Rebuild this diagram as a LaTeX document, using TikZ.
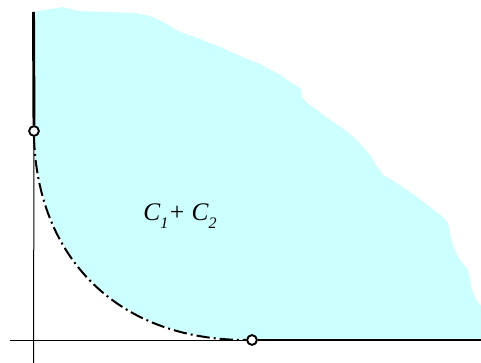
\documentclass[tikz,border=0pt]{standalone}
\usepackage{fontspec}
\setmainfont{Liberation Serif}
\definecolor{regionfill}{RGB}{204,255,255}
\begin{document}
\begin{tikzpicture}[x=0.75pt,y=-0.75pt,
  axisline/.style={line width=0.75pt,black},
  boundline/.style={line width=2.2pt,black},
  curveline/.style={line width=1.5pt,black,dash pattern=on 10pt off 3pt on 1.5pt off 3pt},
  endpt/.style={circle,draw=black,fill=white,line width=1.3pt,minimum size=7.2pt,inner sep=0pt},
  lbl/.style={font=\fontsize{19}{19}\selectfont\itshape}]
\useasboundingbox (0,0) rectangle (481,363);
% filled region
\fill[regionfill] (33.5,12) -- (45,10) -- (63,7) -- (78,11) -- (135,13) -- (150,16) -- (163,22)
  -- (178,31) -- (200,39) -- (220,47) -- (240,56) -- (260,64) -- (280,75) -- (295,85)
  -- (301,89) -- (302,97) -- (307,103) -- (317,110) -- (330,120) -- (345,130) -- (357,140)
  -- (370,155) -- (378,168) -- (383,175) -- (397,183) -- (417,197) -- (443,217) -- (448,223)
  -- (452,243) -- (458,257) -- (468,270) -- (472,290) -- (475,298) -- (481,306)
  -- (481,340) -- (252,340) .. controls (115,340) and (37,255) .. (34,131) -- cycle;
% named points
\coordinate (top) at (33.5,12);
\coordinate (right) at (481,340);
\coordinate (ax0) at (10,340);
\coordinate (ay0) at (33.5,363);
\node[endpt] (p) at (34,131) {};
\node[endpt] (q) at (252,340) {};
% axes
\draw[axisline] (ax0) -- (q.west);
\draw[axisline] (ay0) -- (p.south);
% boundary
\draw[boundline] (top) -- (p.north);
\draw[boundline] (q.east) -- (right);
\draw[curveline] (p.south) .. controls (37,255) and (115,340) .. (q.west);
\node[endpt] at (p) {};
\node[endpt] at (q) {};
% label
\node[lbl] (lab) at (180,216) {C\raisebox{-0.3em}{\fontsize{12}{12}\selectfont 1}+ C\raisebox{-0.3em}{\fontsize{12}{12}\selectfont 2}};
\end{tikzpicture}
\end{document}
